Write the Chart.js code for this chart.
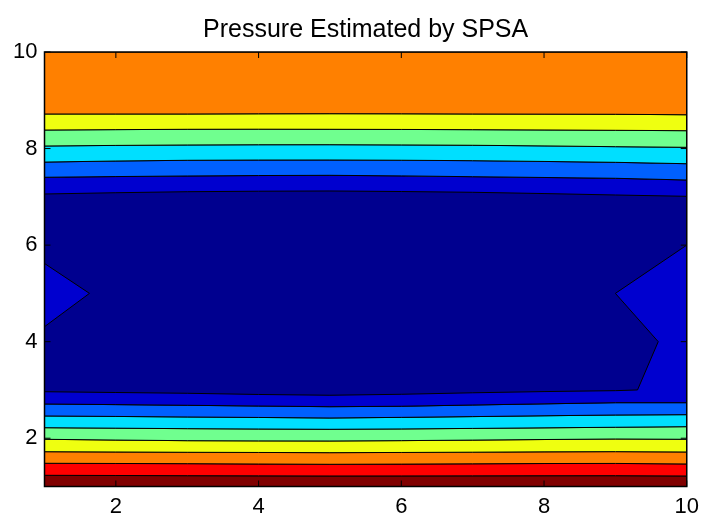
<!DOCTYPE html>
<html>
<head>
<meta charset="utf-8">
<script src="https://cdn.jsdelivr.net/npm/chart.js@4.4.1/dist/chart.umd.min.js"></script>
<style>
  html, body { margin: 0; padding: 0; background: #fff; }
  #wrap { width: 706px; height: 524px; }
</style>
</head>
<body>
<div id="wrap"><canvas id="chart" width="706" height="524"></canvas></div>
<script>
// grid columns and axis ticks
const xs = [1, 2, 3, 4, 5, 6, 7, 8, 9, 10];
const xTicks = [2, 4, 6, 8, 10];
const yTicks = [2, 4, 6, 8, 10];
const yMin = 1, yMax = 10;

// contour boundaries (y at each grid column), top to bottom
const cOrangeYellow = [8.716, 8.716, 8.716, 8.720, 8.722, 8.720, 8.716, 8.713, 8.710, 8.700];
const cYellowGreen  = [8.384, 8.392, 8.399, 8.401, 8.399, 8.396, 8.391, 8.385, 8.378, 8.370];
const cGreenCyan    = [8.053, 8.065, 8.074, 8.079, 8.080, 8.075, 8.068, 8.055, 8.039, 8.026];
const cCyanBlue     = [7.720, 7.742, 7.757, 7.762, 7.763, 7.758, 7.749, 7.733, 7.715, 7.686];
const cBlueMid      = [7.405, 7.420, 7.432, 7.441, 7.446, 7.434, 7.417, 7.401, 7.384, 7.349];
const cMidNavyTop   = [7.059, 7.085, 7.106, 7.116, 7.121, 7.110, 7.094, 7.068, 7.038, 7.011];
// lower navy edge only runs to x=9, then turns up the right notch
const cMidNavyBot   = [2.963, 2.947, 2.931, 2.906, 2.890, 2.910, 2.941, 2.966, 2.985];
const rightNotchX = [10, 9, 9.6, 9.31];
const rightNotchY = [6.0, 5.0, 4.0, 3.0];
const leftNotchX = [1, 1.63, 1];
const leftNotchY = [4.31, 5.0, 5.62];
const cMidBlue      = [2.709, 2.696, 2.682, 2.667, 2.653, 2.662, 2.688, 2.712, 2.736, 2.736];
const cBlueCyan     = [2.461, 2.451, 2.440, 2.430, 2.419, 2.432, 2.448, 2.465, 2.481, 2.488];
const cCyanGreen    = [2.218, 2.208, 2.198, 2.191, 2.185, 2.192, 2.203, 2.215, 2.227, 2.239];
const cGreenYellow  = [1.978, 1.962, 1.949, 1.945, 1.943, 1.950, 1.961, 1.973, 1.984, 1.978];
const cYellowOrange = [1.721, 1.715, 1.709, 1.705, 1.701, 1.705, 1.711, 1.718, 1.722, 1.715];
const cOrangeRed    = [1.481, 1.477, 1.473, 1.466, 1.460, 1.464, 1.470, 1.476, 1.478, 1.467];
const cRedDark      = [1.232, 1.228, 1.224, 1.221, 1.218, 1.219, 1.221, 1.223, 1.224, 1.218];
const topEdge = xs.map(() => yMax);
const bottomEdge = xs.map(() => yMin);

// jet colours of the filled levels
const jet = {
  navy: '#00008f', mid: '#0000cf', blue: '#0060ff', cyan: '#00dfff',
  green: '#70ff8f', yellow: '#efff10', orange: '#ff8000', red: '#ff0000', dark: '#800000'
};

function pts(xArr, yArr) {
    return xArr.map((x, i) => ({ x: x, y: yArr[i] }));
}

// closed polygon: upper line left->right, lower line right->left
function band(upper, lower) {
    return pts(xs, upper).concat(pts(xs, lower).reverse());
}

function navyShape() {
    return pts(xs, cMidNavyTop)
        .concat(pts(rightNotchX, rightNotchY))
        .concat(pts(xs.slice(0, cMidNavyBot.length), cMidNavyBot).reverse())
        .concat(pts(leftNotchX, leftNotchY));
}

function region(points, color) {
    return {
        data: points,
        showLine: true,
        fill: 'shape',
        backgroundColor: color,
        borderColor: '#000',
        borderWidth: 1,
        pointRadius: 0,
        tension: 0
    };
}

// first dataset is painted last, so navy sits on top of the mid-blue block
const datasets = [
    region(navyShape(), jet.navy),
    region(band(topEdge, cOrangeYellow), jet.orange),
    region(band(cOrangeYellow, cYellowGreen), jet.yellow),
    region(band(cYellowGreen, cGreenCyan), jet.green),
    region(band(cGreenCyan, cCyanBlue), jet.cyan),
    region(band(cCyanBlue, cBlueMid), jet.blue),
    region(band(cBlueMid, cMidBlue), jet.mid),
    region(band(cMidBlue, cBlueCyan), jet.blue),
    region(band(cBlueCyan, cCyanGreen), jet.cyan),
    region(band(cCyanGreen, cGreenYellow), jet.green),
    region(band(cGreenYellow, cYellowOrange), jet.yellow),
    region(band(cYellowOrange, cOrangeRed), jet.orange),
    region(band(cOrangeRed, cRedDark), jet.red),
    region(band(cRedDark, bottomEdge), jet.dark)
];

// matlab style box with inward ticks
const framePlugin = {
    id: 'frame',
    afterDatasetsDraw(chart) {
        const { ctx, chartArea: a, scales } = chart;
        const tick = 6;
        ctx.save();
        ctx.strokeStyle = '#000';
        ctx.lineWidth = 1;
        ctx.beginPath();
        xTicks.forEach(v => {
            const px = scales.x.getPixelForValue(v);
            ctx.moveTo(px, a.bottom); ctx.lineTo(px, a.bottom - tick);
            ctx.moveTo(px, a.top); ctx.lineTo(px, a.top + tick);
        });
        yTicks.forEach(v => {
            const py = scales.y.getPixelForValue(v);
            ctx.moveTo(a.left, py); ctx.lineTo(a.left + tick, py);
            ctx.moveTo(a.right, py); ctx.lineTo(a.right - tick, py);
        });
        ctx.stroke();
        ctx.lineWidth = 1.5;
        ctx.strokeRect(a.left, a.top, a.right - a.left, a.bottom - a.top);
        ctx.restore();
    }
};

const font = "'Liberation Sans', Arial, Helvetica, sans-serif";

new Chart(document.getElementById('chart'), {
    type: 'scatter',
    data: { datasets: datasets },
    options: {
        responsive: false,
        animation: false,
        layout: { padding: { left: 0, right: 18.5, top: 0, bottom: 0 } },
        plugins: {
            legend: { display: false },
            tooltip: { enabled: false },
            title: {
                display: true,
                text: 'Pressure Estimated by SPSA',
                fullSize: false,
                color: '#000',
                font: { family: font, size: 25, weight: 'normal', lineHeight: 1.2 },
                padding: { top: 15.5, bottom: 6.5 }
            }
        },
        scales: {
            x: {
                type: 'linear', min: 1, max: 10,
                afterBuildTicks: s => { s.ticks = xTicks.map(v => ({ value: v })); },
                afterFit: s => { s.height = 37.5; },
                grid: { display: false, drawTicks: false },
                border: { display: false },
                ticks: { color: '#000', padding: 7, maxRotation: 0, autoSkip: false,
                         font: { family: font, size: 22 } }
            },
            y: {
                type: 'linear', min: yMin, max: yMax,
                afterBuildTicks: s => { s.ticks = yTicks.map(v => ({ value: v })); },
                afterFit: s => { s.width = 44.5; },
                grid: { display: false, drawTicks: false },
                border: { display: false },
                ticks: { color: '#000', padding: 7, autoSkip: false,
                         font: { family: font, size: 22 } }
            }
        }
    },
    plugins: [framePlugin]
});
</script>
</body>
</html>
